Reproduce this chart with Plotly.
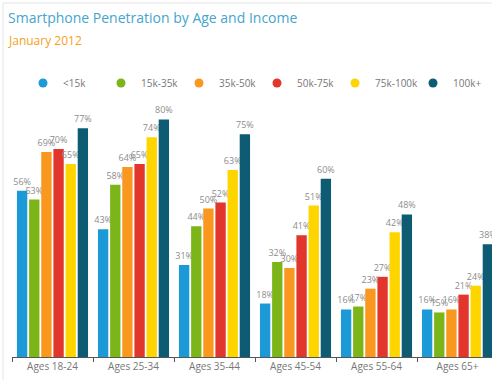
import plotly.graph_objects as go

categories = ["Ages 18-24", "Ages 25-34", "Ages 35-44", "Ages 45-54", "Ages 55-64", "Ages 65+"]
series_names = ["<15k", "15k-35k", "35k-50k", "50k-75k", "75k-100k", "100k+"]
v_lt15 = [56, 43, 31, 18, 16, 16]
v_15_35 = [53, 58, 44, 32, 17, 15]
v_35_50 = [69, 64, 50, 30, 23, 16]
v_50_75 = [70, 65, 52, 41, 27, 21]
v_75_100 = [65, 74, 63, 51, 42, 24]
v_100p = [77, 80, 75, 60, 48, 38]
series_values = [v_lt15, v_15_35, v_35_50, v_50_75, v_75_100, v_100p]
colors = ["#1b9ad7", "#7cb518", "#f9971e", "#e2352b", "#ffd500", "#0d5c73"]

W, H = 492, 380
L, R, T, B = 12, 0, 60, 23
pw = W - L - R
ph = H - T - B

def px(x):
    return (x - L) / pw

def py(y):
    return (H - B - y) / ph

FONT = "Open Sans"
fig = go.Figure()
for name, vals, col in zip(series_names, series_values, colors):
    fig.add_trace(go.Bar(
        x=categories, y=vals, name=name, marker=dict(color=col, line=dict(width=0)),
        text=[f"{v}%" for v in vals], textposition="outside", constraintext="none",
        textfont=dict(size=9, color="#8c8c8c", family=FONT), cliponaxis=False,
        showlegend=False,
    ))
for name, col in zip(series_names, colors):
    fig.add_trace(go.Scatter(
        x=[None], y=[None], mode="markers", name=name,
        marker=dict(color=col, size=9, symbol="circle"),
    ))

fig.update_layout(
    width=W, height=H,
    margin=dict(l=L, r=R, t=T, b=B, pad=0),
    paper_bgcolor="white", plot_bgcolor="white",
    barmode="group", bargap=0.1, bargroupgap=0.15,
    font=dict(family=FONT, color="#777777"),
    legend=dict(orientation="h", x=px(23), y=py(83), xanchor="left", yanchor="middle",
                entrywidth=33, font=dict(size=10, color="#777777"),
                bgcolor="rgba(0,0,0,0)"),
    xaxis=dict(range=[-0.5, -0.5 + pw / 81.0], showgrid=False, showline=True,
               linecolor="#555555", linewidth=1, ticks="outside", ticklen=4,
               tickcolor="#555555", tickson="boundaries",
               tickfont=dict(size=10, color="#777777", family=FONT), fixedrange=True),
    yaxis=dict(range=[0, 100], visible=False, fixedrange=True),
    annotations=[
        dict(text="Smartphone Penetration by Age and Income", xref="paper", yref="paper",
             x=px(6), y=py(17), xanchor="left", yanchor="middle", showarrow=False,
             font=dict(size=14, color="#45a5cc", family=FONT)),
        dict(text="January 2012", xref="paper", yref="paper",
             x=px(6), y=py(40), xanchor="left", yanchor="middle", showarrow=False,
             font=dict(size=12, color="#f5a01a", family=FONT)),
    ],
    shapes=[
        dict(type="line", xref="paper", yref="paper", x0=px(3), x1=px(3), y0=py(3), y1=py(380),
             line=dict(color="#e4e4e4", width=1)),
        dict(type="line", xref="paper", yref="paper", x0=px(3), x1=px(492), y0=py(3), y1=py(3),
             line=dict(color="#e4e4e4", width=1)),
    ],
)

fig.write_html(
    "out.html",
    config={"displayModeBar": False},
    post_script="document.body.style.margin='0';document.body.style.overflow='hidden';",
)
